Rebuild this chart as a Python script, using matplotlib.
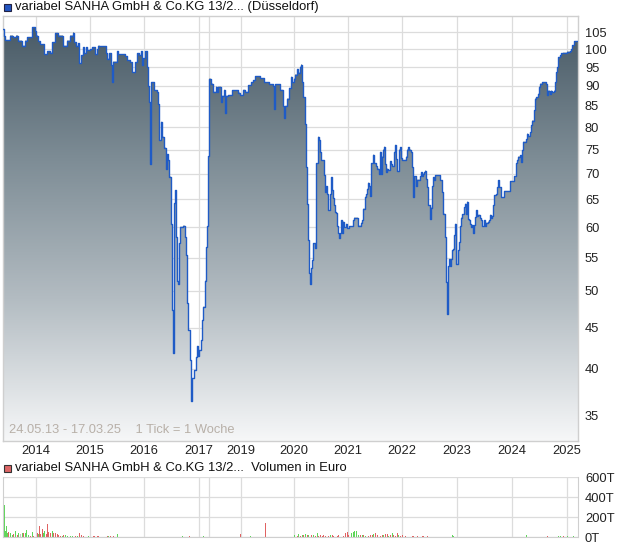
import numpy as np
import matplotlib
matplotlib.use("Agg")
import matplotlib.pyplot as plt
from matplotlib.patches import Rectangle
from matplotlib.colors import LinearSegmentedColormap

plt.rcParams['font.family'] = ['Liberation Sans', 'DejaVu Sans']

# Kursdaten (1 Tick = 1 Woche, Index der Handelswoche)
week_idx = [0, 1, 2, 7, 10, 13, 15, 19, 22, 24, 29, 32, 33, 35, 37, 41, 44, 47, 49, 52,
            55, 60, 64, 67, 70, 71, 73, 75, 76, 78, 80, 81, 83, 84, 87, 89, 92, 94, 95, 97,
            103, 104, 106, 108, 109, 110, 114, 115, 122, 124, 127, 129, 132, 134, 136, 138, 139, 140, 142, 144,
            145, 146, 147, 148, 151, 154, 155, 156, 158, 159, 161, 163, 164, 165, 166, 168, 169, 170, 171, 172,
            173, 174, 175, 176, 177, 180, 182, 183, 184, 185, 187, 188, 189, 191, 193, 194, 195, 196, 198, 199,
            200, 202, 203, 204, 205, 206, 208, 210, 213, 214, 215, 218, 219, 221, 222, 223, 225, 229, 235, 237,
            240, 242, 245, 248, 250, 252, 257, 261, 266, 270, 271, 272, 277, 280, 281, 282, 284, 286, 288, 289,
            291, 292, 294, 295, 297, 298, 299, 300, 302, 303, 304, 305, 306, 307, 308, 309, 310, 312, 313, 315,
            316, 317, 318, 321, 322, 323, 324, 325, 327, 328, 329, 330, 331, 332, 333, 334, 335, 336, 337, 338,
            339, 340, 341, 343, 344, 346, 348, 350, 351, 355, 358, 359, 360, 362, 363, 364, 365, 366, 367, 368,
            370, 371, 373, 374, 376, 377, 378, 379, 380, 381, 382, 383, 384, 385, 387, 388, 389, 391, 392, 393,
            394, 396, 397, 398, 399, 403, 404, 405, 406, 408, 409, 410, 411, 413, 414, 417, 418, 419, 420, 421,
            422, 423, 424, 425, 427, 428, 429, 430, 431, 432, 437, 439, 440, 442, 443, 444, 445, 446, 447, 448,
            449, 450, 451, 452, 453, 455, 456, 457, 458, 459, 461, 462, 463, 464, 465, 466, 467, 468, 469, 470,
            471, 472, 473, 474, 475, 477, 478, 479, 481, 482, 483, 485, 486, 487, 488, 489, 490, 491, 493, 494,
            495, 496, 498, 501, 507, 511, 513, 514, 515, 517, 518, 519, 520, 523, 524, 525, 527, 528, 529, 531,
            532, 533, 535, 536, 537, 539, 541, 543, 544, 545, 547, 548, 549, 551, 552, 553, 554, 555, 557, 558,
            560, 564, 567, 568, 569, 571, 575]
price = [106, 104, 102.7, 104, 103.5, 104, 102.5, 101, 102.5, 103.5, 106.5, 105.5, 104, 102.3, 101.5, 98.5, 99.5, 99, 102, 104.8,
         104, 101, 102.5, 104, 104.9, 102, 101, 101.8, 96, 98.3, 100.6, 98.8, 100.6, 99.7, 100, 100.6, 98.5, 100, 101, 100.8,
         98.8, 97.3, 98.8, 95.5, 91, 96.5, 99.5, 98.6, 98, 96.9, 96.3, 93.6, 96.3, 98.8, 98.3, 99.4, 95.5, 97.5, 99.4, 95,
         90, 86, 72, 91, 88.9, 88.5, 85.4, 77, 81.2, 77.8, 75.4, 71, 74, 72.7, 69.4, 60.6, 47.3, 41.8, 64.3, 66.7,
         58.4, 51.5, 51, 57.3, 60.1, 60.3, 58.4, 55.4, 48.3, 44.7, 41, 36.5, 38.9, 39.8, 41.4, 42.7, 41.5, 42.2, 43.4, 46,
         47.8, 51.5, 56.7, 60.2, 73.6, 91.9, 90.6, 88.5, 89.8, 88.5, 89.8, 86, 87.5, 89, 83.2, 87.5, 87.7, 88.9, 88.3, 87.7,
         89, 88.5, 90.2, 91, 91.5, 92.6, 92, 91, 90.5, 90, 84.3, 90.5, 89, 85, 82.2, 85, 86.8, 89.5, 92.4, 91,
         91.9, 93, 94.5, 93.5, 95.1, 95.7, 91, 87.2, 80.8, 71.4, 64.2, 57.8, 52.7, 51, 53.4, 54.6, 57.3, 56.5, 72.1, 77.8,
         77, 74.5, 72.7, 69.7, 66.4, 67.5, 66.1, 63, 66, 69.3, 66.7, 65.3, 63.9, 62.7, 62.5, 60.2, 59, 58.2, 59, 61.2,
         59, 61, 60, 60.6, 59.8, 60.2, 60.2, 61.2, 61.7, 60.3, 60.8, 61.2, 63.3, 65.5, 66, 67, 68.2, 67.5, 65.7, 72.1,
         73.9, 72.1, 71.5, 71, 70, 74.5, 70, 73.5, 75, 75.6, 72, 70.3, 71, 70.7, 72.5, 72, 71.5, 74.5, 76, 73,
         70.5, 75, 75.5, 73.2, 72.8, 73.5, 75, 75.5, 75, 74.5, 71.4, 65.5, 69.5, 67.5, 68.8, 69.5, 70.3, 69.5, 70, 70.3,
         70.6, 69, 67.3, 63.9, 61.4, 63.5, 67.5, 69.3, 68.7, 69.7, 68.7, 66.4, 62.4, 58.4, 51.3, 46.8, 53.7, 54.8, 53.7, 54.8,
         56.2, 56.4, 58.7, 60.6, 54, 56.2, 57.5, 60.2, 61.7, 62.3, 63.6, 64.2, 62.3, 64.6, 61.5, 61.2, 60.6, 60, 60.4, 59,
         60.4, 61.8, 63, 62, 62.2, 61.7, 61.2, 60.2, 61.2, 60.2, 60.8, 61, 61.2, 62.2, 61.7, 62, 63.9, 65.8, 66, 67.3,
         68.7, 67.3, 65.4, 66.6, 68.5, 69.5, 72.1, 72.8, 73.5, 73.8, 72.3, 74.9, 76.7, 77.2, 78.5, 78, 78.8, 80.4, 81.5, 83.9,
         86.8, 87.2, 88, 89.8, 90.6, 91, 90.9, 90.6, 87.7, 88.8, 88, 88.8, 88.4, 88.8, 91, 93.6, 95, 97.8, 98.3, 98.8,
         99, 99.3, 99.5, 100, 101.2, 102.3, 102.3]

# Volumen in Tausend Euro; Farbe: g = steigend, r = fallend, n = unverändert
vol_idx = [0, 1, 2, 3, 4, 5, 7, 9, 10, 12, 14, 15, 17, 19, 20, 22, 23, 25, 27, 29,
           30, 34, 35, 36, 37, 39, 40, 41, 43, 44, 45, 47, 49, 50, 52, 54, 55, 57, 59, 60,
           62, 64, 67, 69, 72, 74, 76, 78, 80, 85, 90, 91, 94, 95, 104, 105, 107, 110, 114, 157,
           167, 173, 179, 184, 186, 200, 224, 229, 237, 247, 262, 277, 291, 294, 295, 297, 299, 300, 302, 304,
           305, 308, 310, 312, 314, 315, 317, 319, 320, 322, 325, 327, 329, 330, 334, 335, 340, 342, 344, 345,
           348, 350, 351, 353, 355, 357, 359, 360, 362, 365, 367, 369, 370, 372, 374, 377, 379, 380, 382, 384,
           385, 387, 389, 390, 392, 394, 395, 397, 399, 402, 409, 410, 414, 419, 420, 424, 425, 449, 450, 454,
           460, 467, 487, 497, 514, 518, 523, 530, 534, 540, 544, 547, 555, 557, 560, 564, 570]
vol_val = [540, 317, 61, 106, 44, 51, 37, 17, 27, 61, 24, 37, 27, 44, 37, 37, 72, 17, 10, 51,
           10, 44, 27, 113, 27, 78, 44, 61, 27, 130, 51, 44, 61, 37, 44, 27, 17, 10, 10, 17,
           20, 10, 14, 10, 10, 10, 37, 17, 10, 7, 10, 10, 10, 14, 7, 7, 10, 7, 27, 4,
           4, 4, 7, 4, 10, 7, 4, 4, 27, 10, 140, 4, 17, 10, 31, 10, 24, 24, 31, 17,
           24, 17, 17, 10, 37, 10, 17, 10, 17, 7, 10, 17, 24, 10, 10, 17, 10, 37, 51, 24,
           37, 51, 61, 58, 17, 24, 17, 17, 10, 10, 17, 24, 31, 44, 17, 10, 17, 17, 27, 27,
           10, 24, 37, 24, 10, 44, 17, 10, 17, 10, 7, 7, 7, 10, 7, 10, 4, 17, 10, 4,
           4, 4, 4, 4, 4, 4, 17, 4, 4, 4, 7, 4, 7, 10, 7, 10, 10]
vol_dir = ['n', 'g', 'g', 'g', 'g', 'r', 'g', 'g', 'r', 'g', 'r', 'g', 'n', 'g', 'r', 'g', 'g', 'g', 'r', 'g',
           'r', 'r', 'g', 'r', 'r', 'r', 'g', 'g', 'r', 'r', 'r', 'r', 'g', 'r', 'r', 'r', 'r', 'r', 'g', 'r',
           'g', 'g', 'g', 'g', 'r', 'g', 'r', 'r', 'r', 'g', 'r', 'r', 'r', 'r', 'r', 'g', 'r', 'r', 'g', 'g',
           'r', 'g', 'g', 'r', 'r', 'g', 'g', 'g', 'r', 'g', 'r', 'r', 'g', 'r', 'g', 'r', 'g', 'r', 'g', 'r',
           'g', 'r', 'g', 'r', 'g', 'r', 'r', 'r', 'r', 'r', 'r', 'g', 'r', 'r', 'r', 'r', 'r', 'r', 'r', 'r',
           'g', 'g', 'g', 'g', 'g', 'r', 'g', 'r', 'g', 'r', 'r', 'r', 'g', 'r', 'r', 'r', 'r', 'g', 'r', 'r',
           'g', 'r', 'g', 'r', 'r', 'r', 'g', 'r', 'r', 'r', 'r', 'r', 'r', 'r', 'r', 'r', 'r', 'g', 'g', 'g',
           'g', 'r', 'g', 'r', 'g', 'g', 'g', 'g', 'g', 'g', 'r', 'g', 'g', 'g', 'r', 'g', 'g']

year_labels = ['2014', '2015', '2016', '2017', '', '2019', '2020', '2021', '2022', '2023', '2024', '2025']
year_pos = [33, 87, 141, 196, 206, 238, 291, 345, 399, 454, 509, 564]
price_ticks = [35, 40, 45, 50, 55, 60, 65, 70, 75, 80, 85, 90, 95, 100, 105]
vol_ticks = [0, 200, 400, 600]

W, H = 620, 546
fig = plt.figure(figsize=(W / 100, H / 100), dpi=100)

def box(l, t, r, b):
    return [l / W, 1 - b / H, (r - l) / W, (b - t) / H]

grid_c = '#dcdcdc'
spine_c = '#cfcfcf'

# --- Kurs-Chart ---
ax = fig.add_axes(box(3, 16, 578, 441))
ax.set_yscale('log')
ax.set_xlim(0, 575)
ax.set_ylim(32.5, 110)

poly = ax.fill_between(week_idx, price, 1, step='post', facecolor='none', edgecolor='none', zorder=2)
grad = np.linspace(0, 1, 256).reshape(-1, 1)
cmap = LinearSegmentedColormap.from_list('g', ['#455763', '#7d8c95', '#b3bcc2', '#f6f7f8'])
im = ax.imshow(grad, cmap=cmap, extent=[0, 1, 0, 1], transform=ax.transAxes,
               aspect='auto', origin='upper', zorder=2)
im.set_clip_path(poly.get_paths()[0], transform=poly.get_transform())
ax.step(week_idx, price, where='post', color='#1f5bc6', lw=1.0, zorder=3)
ax.set_xlim(0, 575)
ax.set_ylim(32.5, 110)

ax.set_yticks(price_ticks)
ax.set_yticklabels([str(v) for v in price_ticks])
ax.yaxis.set_minor_locator(matplotlib.ticker.NullLocator())
ax.yaxis.tick_right()
ax.set_xticks(year_pos)
ax.set_xticklabels(year_labels)
ax.tick_params(axis='both', length=0, labelsize=9.3, colors='#222222')
ax.tick_params(axis='y', pad=5)
ax.tick_params(axis='x', pad=3)
ax.grid(True, color=grid_c, lw=0.9, zorder=0)
ax.set_axisbelow(True)
for s in ax.spines.values():
    s.set_color(spine_c)
    s.set_linewidth(1.0)

ax.text(0.01, 0.012, '24.05.13 - 17.03.25    1 Tick = 1 Woche', transform=ax.transAxes,
        fontsize=9.3, color='#b8b0a8', ha='left', va='bottom', zorder=4)

# --- Volumen ---
axv = fig.add_axes(box(3, 477, 578, 537))
colmap = {'g': '#5fd65a', 'r': '#e06262', 'n': '#c4c4c4'}
axv.bar(vol_idx, vol_val, width=1.4, color=[colmap[c] for c in vol_dir], align='edge', zorder=2)
axv.set_xlim(0, 575)
axv.set_ylim(0, 600)
axv.set_yticks(vol_ticks)
axv.set_yticklabels([f'{v}T' for v in vol_ticks])
axv.yaxis.tick_right()
axv.set_xticks(year_pos)
axv.set_xticklabels([])
axv.tick_params(axis='both', length=0, labelsize=9.3, colors='#222222')
axv.tick_params(axis='y', pad=5)
axv.grid(True, color=grid_c, lw=0.9, zorder=0)
axv.set_axisbelow(True)
for s in axv.spines.values():
    s.set_color(spine_c)
axv.spines['top'].set_visible(False)

# --- Überschriften ---
fig.patches.append(Rectangle((4 / W, 1 - 11 / H), 7 / W, 7 / H, transform=fig.transFigure,
                             facecolor='#2255c0', edgecolor='#222244', lw=0.8))
fig.text(15 / W, 1 - 7 / H, 'variabel SANHA GmbH & Co.KG 13/2... (Düsseldorf)',
         fontsize=9.4, color='#111111', ha='left', va='center')
fig.patches.append(Rectangle((4 / W, 1 - 472 / H), 7 / W, 7 / H, transform=fig.transFigure,
                             facecolor='#dd6666', edgecolor='#333333', lw=0.8))
fig.text(15 / W, 1 - 468 / H, 'variabel SANHA GmbH & Co.KG 13/2...  Volumen in Euro',
         fontsize=9.4, color='#111111', ha='left', va='center')

fig.savefig('out.png', dpi=100)
